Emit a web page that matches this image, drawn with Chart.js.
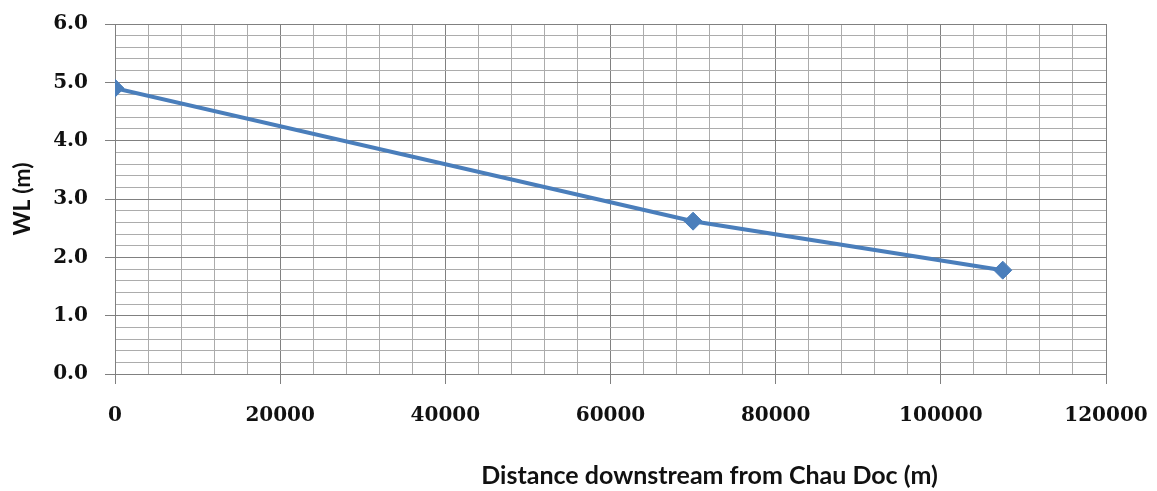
<!DOCTYPE html>
<html>
<head>
<meta charset="utf-8">
<script src="https://cdn.jsdelivr.net/npm/chart.js@4/dist/chart.umd.min.js"></script>
<style>
  html, body { margin: 0; padding: 0; background: #fff; }
  #wlChart { display: block; }
</style>
</head>
<body>
<canvas id="wlChart" width="1157" height="491"></canvas>
<script>
// water level along the river
const distances = [0, 70000, 107500];
const waterLevels = [4.9, 2.62, 1.78];

const xMin = 0, xMax = 120000, xMajor = 20000, xMinor = 4000;
const yMin = 0, yMax = 6, yMajor = 1, yMinor = 0.2;

const xTitle = "Distance downstream from Chau Doc (m)";
const yTitle = "WL (m)";

const majorColor = "#808080";
const minorColor = "#acacac";
const lineColor = "#4a7ebb";

const points = distances.map((d, i) => ({ x: d, y: waterLevels[i] }));

function isMajor(value, step) {
  const r = value / step;
  return Math.abs(r - Math.round(r)) < 1e-6;
}

// the x title sits right of centre in the original, so draw it by hand
const xTitlePlugin = {
  id: "xTitle",
  afterDraw(chart) {
    const { ctx, chartArea } = chart;
    ctx.save();
    ctx.font = "bold 25px Lato";
    ctx.fillStyle = "#111";
    ctx.textAlign = "center";
    ctx.textBaseline = "middle";
    ctx.fillText(xTitle, chartArea.left + 0.6 * (chartArea.right - chartArea.left), 476);
    ctx.restore();
  },
};

const config = {
  type: "line",
  data: {
    datasets: [
      {
        label: "WL",
        data: points,
        borderColor: lineColor,
        backgroundColor: lineColor,
        borderWidth: 4,
        pointStyle: "rectRot",
        pointRadius: 9,
        pointHoverRadius: 9,
        pointBorderWidth: 1,
        tension: 0,
        fill: false,
      },
    ],
  },
  options: {
    responsive: false,
    animation: false,
    devicePixelRatio: 1,
    layout: { padding: { top: 24, right: 51, left: 0, bottom: 0 } },
    plugins: {
      legend: { display: false },
      tooltip: { enabled: false },
    },
    scales: {
      x: {
        type: "linear",
        min: xMin,
        max: xMax,
        afterFit: (scale) => {
          scale.height = 117;
          scale.paddingLeft = 0;
          scale.paddingRight = 0;
        },
        border: { color: majorColor, width: 1 },
        grid: {
          color: (ctx) => (ctx.tick && isMajor(ctx.tick.value, xMajor) ? majorColor : minorColor),
          tickColor: (ctx) => (ctx.tick && isMajor(ctx.tick.value, xMajor) ? majorColor : "rgba(0,0,0,0)"),
          tickLength: 10,
          lineWidth: 1,
        },
        ticks: {
          stepSize: xMinor,
          autoSkip: false,
          maxRotation: 0,
          padding: 20,
          color: "#111",
          font: { family: "DejaVu Serif", size: 20, weight: "bold" },
          callback: (v) => (isMajor(v, xMajor) ? String(v) : ""),
        },
        title: { display: false },
      },
      y: {
        min: yMin,
        max: yMax,
        afterFit: (scale) => {
          scale.width = 115;
          scale.paddingTop = 0;
          scale.paddingBottom = 0;
        },
        border: { color: majorColor, width: 1 },
        grid: {
          color: (ctx) => (ctx.tick && isMajor(ctx.tick.value, yMajor) ? majorColor : minorColor),
          tickColor: (ctx) => (ctx.tick && isMajor(ctx.tick.value, yMajor) ? majorColor : "rgba(0,0,0,0)"),
          tickLength: 10,
          lineWidth: 1,
        },
        ticks: {
          stepSize: yMinor,
          autoSkip: false,
          padding: 17,
          color: "#111",
          font: { family: "DejaVu Serif", size: 20, weight: "bold" },
          callback: (v) => (isMajor(v, yMajor) ? v.toFixed(1) : ""),
        },
        title: {
          display: true,
          text: yTitle,
          color: "#111",
          font: { family: "Lato", size: 23, weight: "bold" },
          padding: { top: 9, bottom: 0 },
        },
      },
    },
  },
  plugins: [xTitlePlugin],
};

const wlChart = new Chart(document.getElementById("wlChart"), config);
</script>
</body>
</html>
